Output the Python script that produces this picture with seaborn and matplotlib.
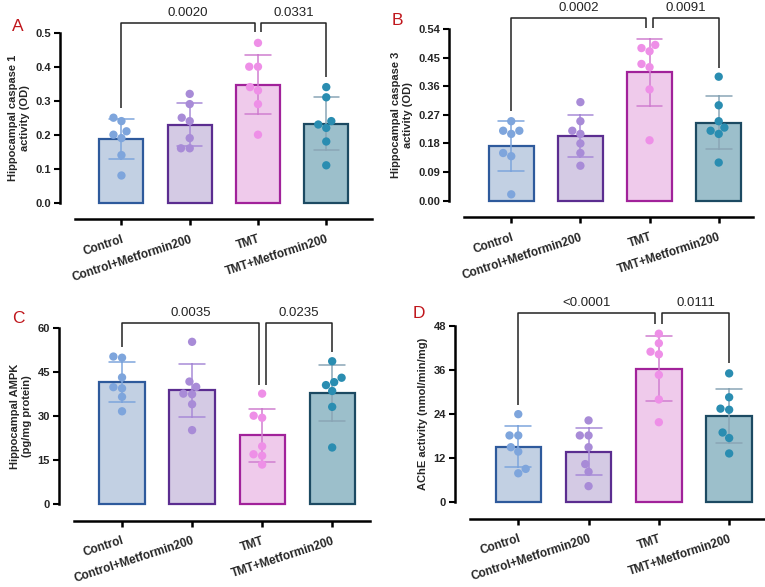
import numpy as np
import pandas as pd
import matplotlib
matplotlib.use("Agg")
import matplotlib.pyplot as plt
import seaborn as sns

# ---------------- data ----------------
groups = ["Control", "Control+Metformin200", "TMT", "TMT+Metformin200"]

# A: Hippocampal caspase 1 activity (OD)
a_control = [0.25, 0.21, 0.24, 0.19, 0.20, 0.14, 0.08]
a_ctrl_met = [0.32, 0.29, 0.25, 0.24, 0.19, 0.16, 0.16]
a_tmt = [0.47, 0.40, 0.40, 0.33, 0.34, 0.29, 0.20]
a_tmt_met = [0.34, 0.31, 0.24, 0.23, 0.22, 0.18, 0.11]
a_pvals = ["0.0020", "0.0331"]
a_ticks = ["0.0", "0.1", "0.2", "0.3", "0.4", "0.5"]

# B: Hippocampal caspase 3 activity (OD)
b_control = [0.22, 0.25, 0.22, 0.21, 0.14, 0.15, 0.02]
b_ctrl_met = [0.31, 0.25, 0.22, 0.21, 0.18, 0.15, 0.11]
b_tmt = [0.47, 0.49, 0.48, 0.42, 0.43, 0.35, 0.19]
b_tmt_met = [0.39, 0.30, 0.23, 0.25, 0.22, 0.21, 0.12]
b_pvals = ["0.0002", "0.0091"]
b_ticks = ["0.00", "0.09", "0.18", "0.27", "0.36", "0.45", "0.54"]

# C: Hippocampal AMPK (pg/mg protein)
c_control = [50.2, 49.8, 43.1, 39.4, 39.8, 36.5, 31.6]
c_ctrl_met = [55.2, 41.7, 39.9, 37.6, 37.4, 34.0, 25.2]
c_tmt = [37.6, 30.1, 29.4, 19.7, 17.0, 16.5, 13.5]
c_tmt_met = [48.6, 43.0, 41.5, 40.5, 38.5, 33.1, 19.3]
c_pvals = ["0.0035", "0.0235"]
c_ticks = ["0", "15", "30", "45", "60"]

# D: AChE activity (nmol/min/mg)
d_control = [24.0, 18.2, 18.2, 15.0, 13.8, 9.1, 7.9]
d_ctrl_met = [22.3, 18.2, 18.2, 15.0, 10.4, 8.3, 4.4]
d_tmt = [45.9, 43.3, 41.0, 40.3, 34.7, 28.0, 21.8]
d_tmt_met = [35.1, 28.6, 25.5, 25.2, 19.0, 17.5, 13.3]
d_pvals = ["<0.0001", "0.0111"]
d_ticks = ["0", "12", "24", "36", "48"]

# ---------------- styles ----------------
fills = ["#bccfe9", "#d3c6e8", "#f5c4f0", "#94c3d3"]
edges = ["#2e5a9c", "#5b2d90", "#a1229a", "#1c4a62"]
dots = ["#7ea5dc", "#a88bd7", "#ee8fe7", "#2a8db1"]
errc = ["#7ea5dc", "#a88bd7", "#d07fd0", "#8aa6b6"]

sns.set_theme(style="white")
plt.rcParams["font.family"] = ["Liberation Sans", "DejaVu Sans"]

W, H = 765, 587
fig = plt.figure(figsize=(W / 100, H / 100), dpi=100)


def make_df(series):
    rows = []
    for g, vals in zip(groups, series):
        for v in vals:
            rows.append({"group": g, "value": v})
    return pd.DataFrame(rows)


panels = [
    dict(letter="A", box=(60, 372, 202.7, 32.7), xr=3.67,
         series=[a_control, a_ctrl_met, a_tmt, a_tmt_met], ticks=a_ticks,
         ylabel="Hippocampal caspase 1\nactivity (OD)", pvals=a_pvals,
         br=(0.528, 0.279, 0.502, 0.370), lpos=(12, 31)),
    dict(letter="B", box=(449, 752.6, 200.7, 29), xr=3.49,
         series=[b_control, b_ctrl_met, b_tmt, b_tmt_met], ticks=b_ticks,
         ylabel="Hippocampal caspase 3\nactivity (OD)", pvals=b_pvals,
         br=(0.574, 0.282, 0.542, 0.416), lpos=(392, 25)),
    dict(letter="C", box=(59, 370, 504.3, 327.7), xr=3.54,
         series=[c_control, c_ctrl_met, c_tmt, c_tmt_met], ticks=c_ticks,
         ylabel="Hippocampal AMPK\n(pg/mg protein)", pvals=c_pvals,
         br=(61.7, 53.6, 40.5, 51.9), lpos=(12, 323)),
    dict(letter="D", box=(455, 765, 502.3, 326), xr=3.51,
         series=[d_control, d_ctrl_met, d_tmt, d_tmt_met], ticks=d_ticks,
         ylabel="AChE activity (nmol/min/mg)", pvals=d_pvals,
         br=(51.6, 26.6, 48.5, 38.0), lpos=(413, 318)),
]

for p in panels:
    left, right, y0, ytop = p["box"]
    ax = fig.add_axes([left / W, 1 - y0 / H, (right - left) / W, (y0 - ytop) / H])
    df = make_df(p["series"])
    tick_vals = [float(t.replace("<", "")) for t in p["ticks"]]
    ymax = tick_vals[-1]

    sns.barplot(data=df, x="group", y="value", hue="group", order=groups,
                hue_order=groups, palette=fills, width=0.645, errorbar="sd",
                capsize=0.37, err_kws={"linewidth": 1.1}, linewidth=1.6,
                legend=False, ax=ax)
    for i, cont in enumerate(ax.containers):
        for patch in cont:
            patch.set_edgecolor(edges[i])
            patch.set_clip_on(False)
    for line in ax.lines:
        xd = np.asarray(line.get_xdata(), dtype=float)
        idx = int(round(np.nanmean(xd)))
        line.set_color(errc[idx])
        line.set_zorder(3)

    sns.swarmplot(data=df, x="group", y="value", hue="group", order=groups,
                  hue_order=groups, palette=dots, size=6, legend=False, ax=ax)

    # spines first (set_position resets ticks)
    for s in ["top", "right"]:
        ax.spines[s].set_visible(False)
    ax.spines["left"].set_linewidth(1.8)
    ax.spines["left"].set_color("black")
    ax.spines["bottom"].set_linewidth(1.8)
    ax.spines["bottom"].set_color("black")
    ax.spines["bottom"].set_position(("outward", 12))

    ax.set_xlim(-0.9, p["xr"])
    ax.set_ylim(0, ymax)
    ax.spines["left"].set_bounds(0, ymax)
    ax.spines["bottom"].set_bounds(-0.68, p["xr"])
    ax.set_yticks(tick_vals)
    ax.set_yticklabels(p["ticks"], fontweight="bold", fontsize=8)
    ax.set_xticks(range(4))
    ax.set_xticklabels(groups, rotation=18, ha="right", rotation_mode="anchor",
                       fontweight="bold", fontsize=8.5)
    ax.set_xlabel("")
    ax.set_ylabel(p["ylabel"], fontweight="bold", fontsize=8, labelpad=4)
    ax.tick_params(axis="y", left=True, length=4.5, width=1.5, pad=2, color="black")
    ax.tick_params(axis="x", bottom=True, length=4, width=1.8, pad=6, color="black")

    # significance brackets
    top, l0, l1, l2 = p["br"]
    kw = dict(color="#222222", lw=1.1, clip_on=False, solid_capstyle="butt")
    ax.plot([0, 0, 1.95, 1.95], [l0, top, top, l1], **kw)
    ax.plot([2.05, 2.05, 3, 3], [l1, top, top, l2], **kw)
    for (xa, xb), txt in zip([(0, 1.95), (2.05, 3)], p["pvals"]):
        ax.annotate(txt, xy=((xa + xb) / 2, top), xytext=(0, 3),
                    textcoords="offset points", ha="center", va="bottom",
                    fontsize=9.5, color="#222222", annotation_clip=False)

    lx, ly = p["lpos"]
    fig.text(lx / W, 1 - ly / H, p["letter"], color="#c0161c", fontsize=12.5,
             ha="left", va="baseline")

fig.savefig("out.png", dpi=100)
